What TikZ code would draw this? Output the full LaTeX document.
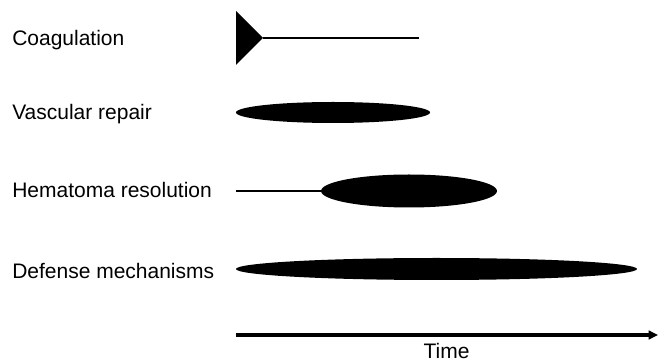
\documentclass[tikz,border=0pt]{standalone}
\usepackage{fontspec}
\setmainfont{Liberation Sans}
\usetikzlibrary{shapes.geometric,arrows.meta}
\begin{document}
\begin{tikzpicture}[x=0.75pt,y=-0.75pt,
  lbl/.style={anchor=base west,inner sep=0pt,font=\fontsize{15.75pt}{18pt}\selectfont},
  bar/.style={ellipse,fill=black,draw=none,inner sep=0pt},
  thin/.style={line width=1.1pt}]
\useasboundingbox (0,0) rectangle (658,363);
% labels
\node[lbl] (lc) at (12,46) {Coagulation};
\node[lbl] (lv) at (12,119.5) {Vascular repair};
\node[lbl] (lh) at (12,198) {Hematoma resolution};
\node[lbl] (ld) at (12,279) {Defense mechanisms};
% coagulation
\coordinate (ct) at (236,11);
\coordinate (cb) at (236,65);
\coordinate (cp) at (263,38);
\coordinate (ce) at (419,38);
\fill (ct) -- (cp) -- (cb) -- cycle;
\draw[thin] (cp) -- (ce);
% vascular repair
\node[bar,minimum width=194*0.75pt,minimum height=21*0.75pt] (vr) at (333,112.5) {};
% hematoma
\coordinate (hs) at (236,191);
\node[bar,minimum width=176*0.75pt,minimum height=33*0.75pt] (hr) at (409,191) {};
\draw[thin] (hs) -- (hr.west);
% defense
\node[bar,minimum width=401*0.75pt,minimum height=22*0.75pt] (dm) at (436.5,269) {};
% time axis
\coordinate (ts) at (236,335);
\coordinate (te) at (658,335);
\draw[line width=2.3pt,-{Triangle[length=7pt,width=6.5pt]}] (ts) -- (te);
\node[anchor=base,inner sep=0pt,font=\fontsize{15.75pt}{18pt}\selectfont] (time) at (446.5,359) {Time};
\end{tikzpicture}
\end{document}
